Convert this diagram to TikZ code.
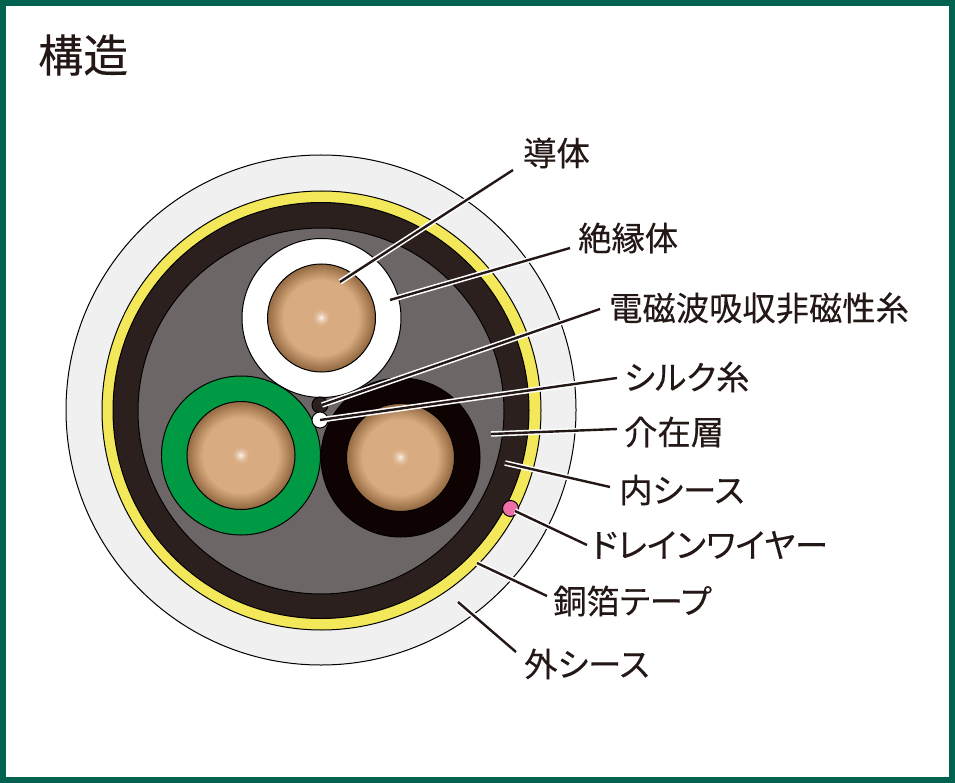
\documentclass[tikz,border=0pt]{standalone}
\usepackage{fontspec}
\setmainfont[RawFeature={+palt},FakeBold=0.25]{Noto Sans CJK JP}
\definecolor{frame}{HTML}{00624F}
\definecolor{ink}{HTML}{231815}
\definecolor{sheath}{HTML}{F0F0F0}
\definecolor{foil}{HTML}{F2E85A}
\definecolor{inner}{HTML}{2B201E}
\definecolor{filler}{HTML}{6C6766}
\definecolor{greenins}{HTML}{009944}
\definecolor{blackins}{HTML}{0E0203}
\definecolor{pinkw}{HTML}{EE6FA8}
\definecolor{copperB}{HTML}{D9AB80}
\definecolor{copperC}{HTML}{946A42}
\tikzset{
  x=1pt,y=-1pt,
  disc/.style={circle,draw=black,line width=1pt,inner sep=0pt,outer sep=0pt,minimum size=#1},
  conductor/.style={disc=108pt},
  lbl/.style={text=ink,font=\fontsize{33.3}{33.3}\selectfont,inner sep=0pt,anchor=west},
}
\newcommand{\lead}[2]{%
  \draw[white,line width=5.5pt] (#1) -- (#2);
  \draw[ink,line width=2.4pt] (#1) -- (#2);}
\newcommand{\coppergrad}[1]{%
  \foreach \r in {54,53,...,38}{%
    \pgfmathtruncatemacro\p{(\r-38)/16*100}%
    \fill[copperC!\p!copperB] (#1) circle[radius=\r pt];}
  \foreach \r in {11,10,...,1}{%
    \pgfmathtruncatemacro\p{(1-\r/11)*(1-\r/11)*100}%
    \fill[white!\p!copperB] (#1) circle[radius=\r pt];}}
\begin{document}
\begin{tikzpicture}
\useasboundingbox (0,0) rectangle (955,783);
\node[draw=frame,fill=white,line width=6pt,minimum width=949pt,minimum height=777pt,inner sep=0pt,outer sep=0pt] (border) at (477.5,391.5) {};
\node[lbl,font=\fontsize{45}{45}\selectfont] (title) at (38,55) {構造};
% cable layers
\node[disc=510pt,fill=sheath] (outer) at (321,410) {};
\node[disc=439pt,fill=foil] (foil) at (321.5,410.5) {};
\node[disc=416pt,fill=inner] (innersheath) at (321,410.5) {};
\node[disc=366pt,fill=filler] (fillerc) at (321,411) {};
% insulated cores
\node[disc=159pt,fill=white] (insW) at (321.5,318) {};
\coppergrad{insW}
\node[conductor] (condW) at (321.5,318) {};
\node[disc=159pt,fill=greenins] (insG) at (241,455.5) {};
\coppergrad{insG}
\node[conductor] (condG) at (241,455.5) {};
\node[disc=159pt,fill=blackins] (insK) at (400.5,457.5) {};
\coppergrad{insK}
\node[conductor] (condK) at (400.5,457.5) {};
% threads and drain wire
\node[disc=16pt,fill=inner] (emi) at (320,405) {};
\node[disc=16pt,fill=white] (silk) at (320,420) {};
\node[disc=16pt,fill=pinkw] (drain) at (510.5,508.5) {};
% labels
\node[lbl] (t1) at (523,153) {導体};
\node[lbl] (t2) at (578,238) {絶縁体};
\node[lbl] (t3) at (609,308) {電磁波吸収非磁性糸};
\node[lbl] (t4) at (624,377) {シルク糸};
\node[lbl] (t5) at (624,432) {介在層};
\node[lbl] (t6) at (619,490) {内シース};
\node[lbl] (t7) at (591,545) {ドレインワイヤー};
\node[lbl] (t8) at (553,601) {銅箔テープ};
\node[lbl] (t9) at (524,664) {外シース};
% leader ends
\coordinate (a1) at (340,282); \coordinate (b1) at (513,170);
\coordinate (a2) at (390,300); \coordinate (b2) at (570,248);
\coordinate (a3) at (322,405); \coordinate (b3) at (600,309);
\coordinate (a4) at (320,420); \coordinate (b4) at (617,378);
\coordinate (a5) at (491,434); \coordinate (b5) at (617,429);
\coordinate (a6) at (505,463); \coordinate (b6) at (610,487);
\coordinate (a7) at (515,511); \coordinate (b7) at (587,545);
\coordinate (a8) at (477,563); \coordinate (b8) at (547,596);
\coordinate (a9) at (458,602); \coordinate (b9) at (516,652);
\lead{a1}{b1}\lead{a2}{b2}\lead{a3}{b3}\lead{a4}{b4}\lead{a5}{b5}
\lead{a6}{b6}\lead{a7}{b7}\lead{a8}{b8}\lead{a9}{b9}
\end{tikzpicture}
\end{document}
